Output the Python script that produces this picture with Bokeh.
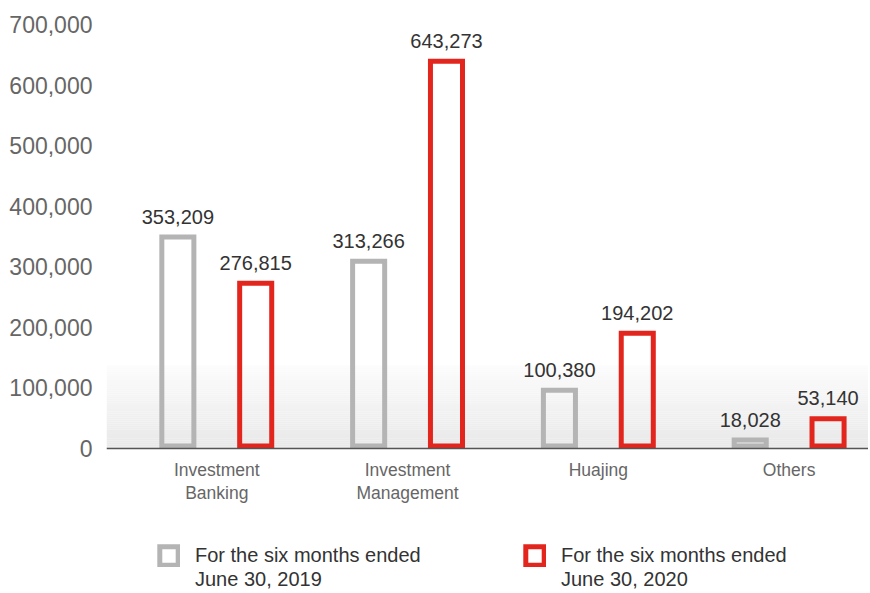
from bokeh.plotting import figure
from bokeh.models import (Range1d, FixedTicker, NumeralTickFormatter, ColumnDataSource,
                          Legend, LegendItem, Span)
from bokeh.core.properties import value
from bokeh.embed import file_html
from bokeh.resources import INLINE

# ---- data ----
categories = ["Investment\nBanking", "Investment\nManagement", "Huajing", "Others"]
values_2019 = [353209, 313266, 100380, 18028]
values_2020 = [276815, 643273, 194202, 53140]
series_line1 = ["For the six months ended", "For the six months ended"]
series_line2 = ["June 30, 2019", "June 30, 2020"]
y_ticks = [0, 100000, 200000, 300000, 400000, 500000, 600000, 700000]

# ---- style / layout ----
FONT = "Liberation Sans"
GRAY = "#b4b4b4"
RED = "#e2261d"
LW = 5
DODGE = 0.204
BAR_W = 0.168
X_START, X_END = -0.078, 3.916
Y_MAX = 700000
W, H = 868, 592
TOP_PX = 24          # frame top (700,000 line)
ZERO_PX = 448        # pixel row of the zero line
px_per_unit = (ZERO_PX - TOP_PX) / Y_MAX
Y_MIN = -(H - ZERO_PX) / px_per_unit
half_stroke = (LW / 2) / px_per_unit   # stroke drawn inside the bar outline

p = figure(width=W, height=H, output_backend="svg", toolbar_location=None,
           x_range=Range1d(X_START, X_END), y_range=Range1d(Y_MIN, Y_MAX),
           min_border_top=TOP_PX, min_border_bottom=0, min_border_left=106,
           min_border_right=0)
p.outline_line_color = None
p.grid.grid_line_color = None
p.background_fill_color = "white"
p.border_fill_color = "white"
p.xaxis.visible = False

# gradient band at the bottom of the plot area
n_bands = 40
g_top = 137000
bands_bottom, bands_top, band_colors = [], [], []
c0, c1 = (0xe8, 0xe8, 0xe8), (0xfc, 0xfc, 0xfc)
for k in range(n_bands):
    f = k / (n_bands - 1)
    bands_bottom.append(g_top * k / n_bands)
    bands_top.append(g_top * (k + 1) / n_bands)
    c = tuple(int(round(c0[j] + (c1[j] - c0[j]) * f)) for j in range(3))
    band_colors.append("#%02x%02x%02x" % c)
p.quad(left=X_START, right=X_END, bottom=bands_bottom, top=bands_top,
       fill_color=band_colors, line_color=None)

centers = [i + 0.5 for i in range(len(categories))]
x19 = [c - DODGE for c in centers]
x20 = [c + DODGE for c in centers]

src19 = ColumnDataSource(dict(x=x19, val=values_2019,
                              top=[v - half_stroke for v in values_2019],
                              lab=[f"{v:,}" for v in values_2019]))
src20 = ColumnDataSource(dict(x=x20, val=values_2020,
                              top=[v - half_stroke for v in values_2020],
                              lab=[f"{v:,}" for v in values_2020]))

r19 = p.vbar(x="x", top="top", bottom=half_stroke, width=BAR_W, source=src19,
             fill_color=None, line_color=GRAY, line_width=LW, line_join="miter")
r20 = p.vbar(x="x", top="top", bottom=half_stroke, width=BAR_W, source=src20,
             fill_color=None, line_color=RED, line_width=LW, line_join="miter")

for src in (src19, src20):
    p.text(x="x", y="val", text="lab", source=src, text_align="center",
           text_baseline="middle", y_offset=-18,
           text_font=value(FONT), text_font_size="20px", text_color="#333333")

# x axis line and category labels
p.add_layout(Span(location=0, dimension="width", line_color="#555555", line_width=1.5))
cat_src = ColumnDataSource(dict(x=centers, y=[0] * len(centers), lab=categories))
p.text(x="x", y="y", text="lab", source=cat_src, text_align="center",
       text_baseline="top", y_offset=11, text_line_height=1.15,
       text_font=value(FONT), text_font_size="17.5px", text_color="#666666")

# y axis
p.yaxis.ticker = FixedTicker(ticks=y_ticks)
p.yaxis.formatter = NumeralTickFormatter(format="0,0")
p.yaxis.axis_line_color = None
p.yaxis.major_tick_line_color = None
p.yaxis.minor_tick_line_color = None
p.yaxis.major_label_text_font = FONT
p.yaxis.major_label_text_font_size = "23px"
p.yaxis.major_label_text_color = "#666666"
p.yaxis.major_label_standoff = 8

# legend: first line with the swatch, second line underneath
legend_style = dict(orientation="horizontal", glyph_width=23, glyph_height=23,
                    label_standoff=15, label_width=300, spacing=28,
                    padding=0, margin=0, border_line_color=None,
                    background_fill_alpha=0, label_text_font=FONT,
                    label_text_font_size="20px", label_text_color="#333333",
                    label_text_line_height=1.2)
legend_a = Legend(items=[LegendItem(label=series_line1[0], renderers=[r19]),
                         LegendItem(label=series_line1[1], renderers=[r20])],
                  location=(51, 25), **legend_style)
# invisible swatch renderer so the second lines align under the first
blank = p.vbar(x="x", top="top", bottom=half_stroke, width=BAR_W, source=src19,
               fill_alpha=0, line_alpha=0)
legend_b = Legend(items=[LegendItem(label=series_line2[0], renderers=[blank]),
                         LegendItem(label=series_line2[1], renderers=[blank])],
                  location=(51, 1), **legend_style)
p.add_layout(legend_a, "center")
p.add_layout(legend_b, "center")

open("out.html", "w").write(file_html(p, INLINE))
